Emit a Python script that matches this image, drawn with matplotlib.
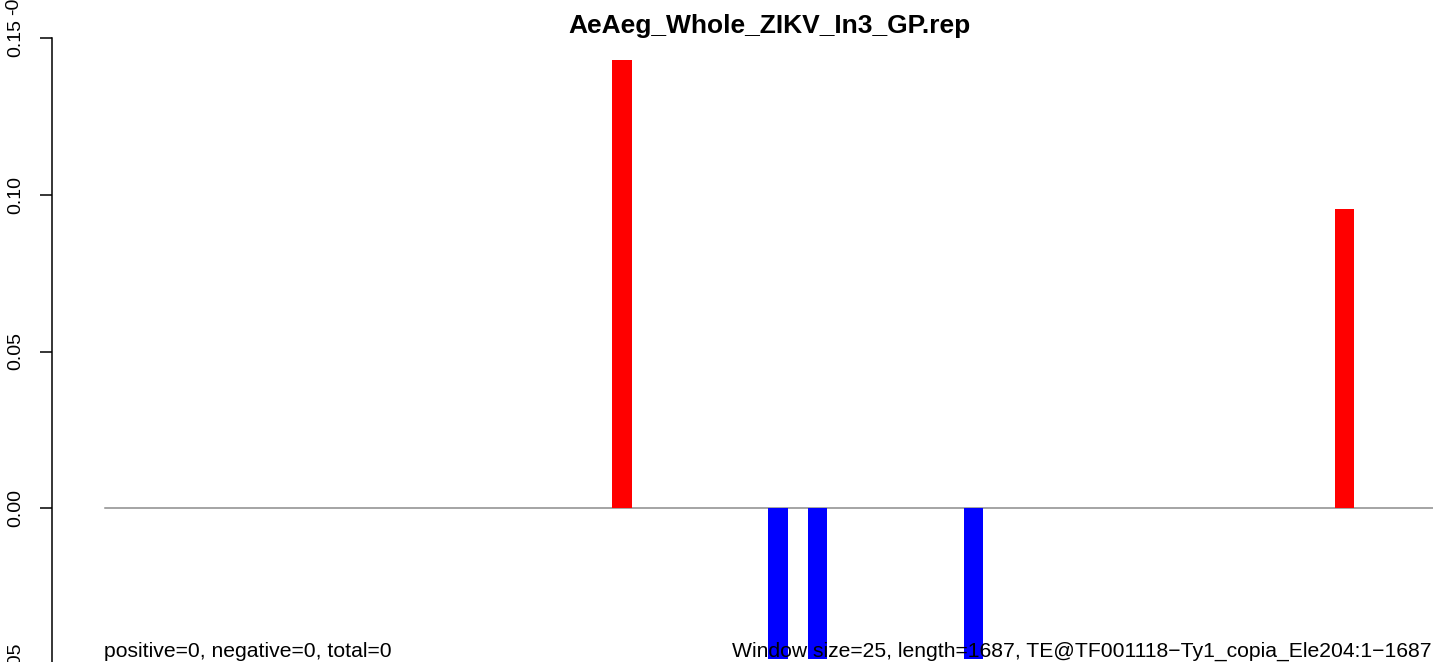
import matplotlib
matplotlib.use("Agg")
import matplotlib.pyplot as plt

# ---- data ----
title = "AeAeg_Whole_ZIKV_In3_GP.rep"
window_size = 25
seq_length = 1687
window_starts = [650, 850, 900, 1100, 1575]
window_values = [0.143, -0.048, -0.048, -0.048, 0.0954]
ytick_values = [-0.05, 0.00, 0.05, 0.10, 0.15]
ytick_labels = ["-0.05", "0.00", "0.05", "0.10", "0.15"]
left_note = "positive=0, negative=0, total=0"
right_note = "Window size=25, length=1687, TE@TF001118\u2212Ty1_copia_Ele204:1\u22121687"

plt.rcParams['font.family'] = ['Liberation Sans', 'DejaVu Sans']

W, H = 1433, 662
fig = plt.figure(figsize=(W / 100, H / 100), dpi=100)

# plot region in pixels (extends beyond the figure, as in the reference)
px_left, px_right = 51.8, 1475.0
px_top, px_bottom = 13.0, 690.0
ax = fig.add_axes([px_left / W, (H - px_bottom) / H,
                   (px_right - px_left) / W, (px_bottom - px_top) / H])
ax.set_xlim(-0.04 * seq_length, seq_length * 1.04)
ax.set_ylim(-0.058, 0.158)
ax.patch.set_alpha(0)

colors = ['red' if v > 0 else 'blue' for v in window_values]
ax.bar(window_starts, window_values, width=window_size, align='edge',
       color=colors, linewidth=0, zorder=2)
ax.plot([0, seq_length * 1.04], [0, 0], color='#8c8c8c', lw=1.1, zorder=1)

for s in ['top', 'right', 'bottom']:
    ax.spines[s].set_visible(False)
ax.spines['left'].set_bounds(-0.05, 0.15)
ax.spines['left'].set_linewidth(1.1)
ax.set_xticks([])
ax.set_yticks(ytick_values)
ax.set_yticklabels([])
ax.tick_params(axis='y', length=8.6, width=1.1, direction='out')

# tick labels drawn manually (some fall partly outside the figure)
label_x = -0.04 * seq_length - 36 / 0.7811
for v, lab in zip(ytick_values, ytick_labels):
    ax.text(label_x, v, lab, rotation=90, ha='center', va='center',
            fontsize=14, transform=ax.transData, clip_on=False)

# clipped fragment at the top left
fig.text(14 / W, 1 - 15 / H, "-0.2", rotation=90, ha='center', va='bottom',
         fontsize=14)

fig.text(769 / W, 1 - 33 / H, title, ha='center', va='baseline',
         fontsize=19, fontweight='bold')
fig.text(104.5 / W, 1 - 657 / H, left_note, ha='left', va='baseline', fontsize=15.2)
fig.text(1432 / W, 1 - 657 / H, right_note, ha='right', va='baseline', fontsize=15.2)

fig.savefig("out.png", dpi=100)
